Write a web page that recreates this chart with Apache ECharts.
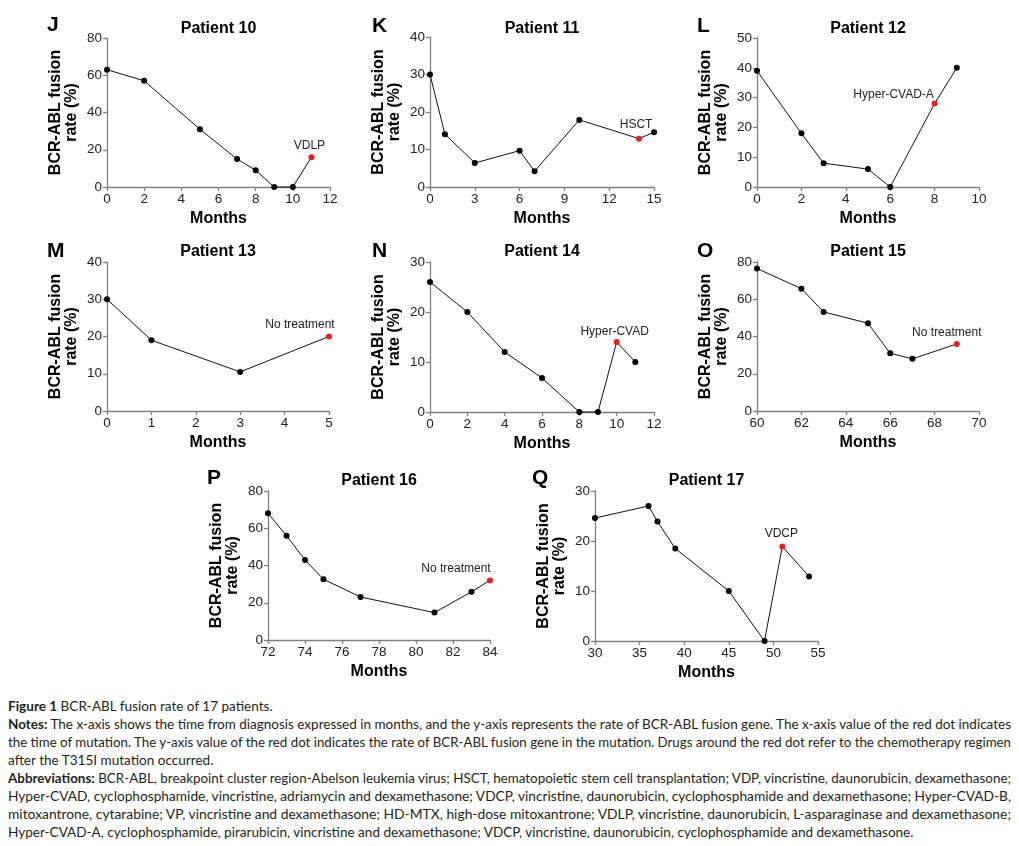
<!DOCTYPE html>
<html><head><meta charset="utf-8">
<script src="https://cdn.jsdelivr.net/npm/echarts@6/dist/echarts.min.js"></script>
<style>
html,body{margin:0;padding:0;background:#fff;}
#chart{position:absolute;left:0;top:0;width:1019px;height:690px;}
#caption{position:absolute;left:8px;top:697px;width:1003px;font-family:'Lato','Open Sans',sans-serif;font-size:13.5px;line-height:18px;color:#231f20;}
#caption div{white-space:nowrap;height:18px;}
#caption span{display:inline-block;transform-origin:0 0;}
#caption b{font-weight:bold;}
</style></head><body>
<div id="chart"></div>
<div id="caption">
<div><span><b>Figure 1</b> BCR-ABL fusion rate of 17 patients.</span></div>
<div class="j"><span><b>Notes:</b> The x-axis shows the time from diagnosis expressed in months, and the y-axis represents the rate of BCR-ABL fusion gene. The x-axis value of the red dot indicates</span></div>
<div class="j"><span>the time of mutation. The y-axis value of the red dot indicates the rate of BCR-ABL fusion gene in the mutation. Drugs around the red dot refer to the chemotherapy regimen</span></div>
<div><span>after the T315I mutation occurred.</span></div>
<div class="j"><span><b>Abbreviations:</b> BCR-ABL, breakpoint cluster region-Abelson leukemia virus; HSCT, hematopoietic stem cell transplantation; VDP, vincristine, daunorubicin, dexamethasone;</span></div>
<div class="j"><span>Hyper-CVAD, cyclophosphamide, vincristine, adriamycin and dexamethasone; VDCP, vincristine, daunorubicin, cyclophosphamide and dexamethasone; Hyper-CVAD-B,</span></div>
<div class="j"><span>mitoxantrone, cytarabine; VP, vincristine and dexamethasone; HD-MTX, high-dose mitoxantrone; VDLP, vincristine, daunorubicin, L-asparaginase and dexamethasone;</span></div>
<div><span>Hyper-CVAD-A, cyclophosphamide, pirarubicin, vincristine and dexamethasone; VDCP, vincristine, daunorubicin, cyclophosphamide and dexamethasone.</span></div>
</div>
<script>
// ---- Data ----
const p10Months = [0, 2, 5, 7, 8, 9, 10, 11];
const p10Rate   = [63, 57, 31, 15, 9, 0, 0, 16];
const p10Mutation = 11; const p10Regimen = 'VDLP';
const p10XTicks = [0, 2, 4, 6, 8, 10, 12]; const p10YTicks = [0, 20, 40, 60, 80];

const p11Months = [0, 1, 3, 6, 7, 10, 14, 15];
const p11Rate   = [30, 14.1, 6.4, 9.7, 4.2, 17.9, 12.9, 14.6];
const p11Mutation = 14; const p11Regimen = 'HSCT';
const p11XTicks = [0, 3, 6, 9, 12, 15]; const p11YTicks = [0, 10, 20, 30, 40];

const p12Months = [0, 2, 3, 5, 6, 8, 9];
const p12Rate   = [39, 18, 8, 6, 0, 28, 40];
const p12Mutation = 8; const p12Regimen = 'Hyper-CVAD-A';
const p12XTicks = [0, 2, 4, 6, 8, 10]; const p12YTicks = [0, 10, 20, 30, 40, 50];

const p13Months = [0, 1, 3, 5];
const p13Rate   = [30, 19, 10.5, 20];
const p13Mutation = 5; const p13Regimen = 'No treatment';
const p13XTicks = [0, 1, 2, 3, 4, 5]; const p13YTicks = [0, 10, 20, 30, 40];

const p14Months = [0, 2, 4, 6, 8, 9, 10, 11];
const p14Rate   = [26, 20, 12, 6.8, 0, 0, 14, 10];
const p14Mutation = 10; const p14Regimen = 'Hyper-CVAD';
const p14XTicks = [0, 2, 4, 6, 8, 10, 12]; const p14YTicks = [0, 10, 20, 30];

const p15Months = [60, 62, 63, 65, 66, 67, 69];
const p15Rate   = [76.5, 65.7, 53.2, 47.1, 31, 28, 36];
const p15Mutation = 69; const p15Regimen = 'No treatment';
const p15XTicks = [60, 62, 64, 66, 68, 70]; const p15YTicks = [0, 20, 40, 60, 80];

const p16Months = [72, 73, 74, 75, 77, 81, 83, 84];
const p16Rate   = [68, 56, 43, 32.6, 23.1, 14.7, 25.9, 32];
const p16Mutation = 84; const p16Regimen = 'No treatment';
const p16XTicks = [72, 74, 76, 78, 80, 82, 84]; const p16YTicks = [0, 20, 40, 60, 80];

const p17Months = [30, 36, 37, 39, 45, 49, 51, 54];
const p17Rate   = [24.6, 27, 23.9, 18.5, 10, 0, 18.9, 12.9];
const p17Mutation = 51; const p17Regimen = 'VDCP';
const p17XTicks = [30, 35, 40, 45, 50, 55]; const p17YTicks = [0, 10, 20, 30];

const panelLetters = ['J', 'K', 'L', 'M', 'N', 'O', 'P', 'Q'];
const panelTitles = ['Patient 10', 'Patient 11', 'Patient 12', 'Patient 13', 'Patient 14', 'Patient 15', 'Patient 16', 'Patient 17'];

// ---- Layout ----
const panels = [
  {m: p10Months, r: p10Rate, mut: p10Mutation, reg: p10Regimen, xt: p10XTicks, yt: p10YTicks, g: [107, 38, 223, 149], off: [-2, 2]},
  {m: p11Months, r: p11Rate, mut: p11Mutation, reg: p11Regimen, xt: p11XTicks, yt: p11YTicks, g: [430, 37, 224, 150], off: [-3, 0]},
  {m: p12Months, r: p12Rate, mut: p12Mutation, reg: p12Regimen, xt: p12XTicks, yt: p12YTicks, g: [757, 38, 222, 149], off: [-41, 5]},
  {m: p13Months, r: p13Rate, mut: p13Mutation, reg: p13Regimen, xt: p13XTicks, yt: p13YTicks, g: [107, 262, 222, 149], off: [-29, 2]},
  {m: p14Months, r: p14Rate, mut: p14Mutation, reg: p14Regimen, xt: p14XTicks, yt: p14YTicks, g: [430, 262, 224, 150], off: [-2, 4]},
  {m: p15Months, r: p15Rate, mut: p15Mutation, reg: p15Regimen, xt: p15XTicks, yt: p15YTicks, g: [757, 262, 222, 149], off: [-10, 3]},
  {m: p16Months, r: p16Rate, mut: p16Mutation, reg: p16Regimen, xt: p16XTicks, yt: p16YTicks, g: [268, 491, 222, 149], off: [-34, 2]},
  {m: p17Months, r: p17Rate, mut: p17Mutation, reg: p17Regimen, xt: p17XTicks, yt: p17YTicks, g: [595, 491, 223, 150], off: [-1, 1]}
];
const titleY = [28.5, 28.5, 28.5, 252, 252, 252, 481, 481];
const letterPos = [[47, 25], [372, 26], [697, 26], [47, 251], [372, 251], [697, 251], [207, 478], [532, 478]];

const FONT = "'Liberation Sans', Arimo, Arial, Helvetica, sans-serif";
const AXIS_COLOR = '#7f7f7f';
const RED = '#ec1c24';

const grids = [], xAxes = [], yAxes = [], series = [], graphics = [];
panels.forEach((p, i) => {
  grids.push({left: p.g[0], top: p.g[1], width: p.g[2], height: p.g[3], containLabel: false});
  const axisCommon = {
    gridIndex: i, type: 'value',
    axisLine: {show: true, lineStyle: {color: AXIS_COLOR, width: 1.3}},
    axisTick: {show: true, length: 4, lineStyle: {color: AXIS_COLOR, width: 1.3}},
    splitLine: {show: false},
    axisLabel: {color: '#222', fontFamily: FONT, fontSize: 13.5, margin: 5},
    nameTextStyle: {color: '#000', fontFamily: FONT, fontSize: 16, fontWeight: 'bold'}
  };
  xAxes.push(Object.assign({}, axisCommon, {
    min: p.xt[0], max: p.xt[p.xt.length - 1], interval: p.xt[1] - p.xt[0],
    name: 'Months', nameLocation: 'middle', nameGap: 24
  }));
  yAxes.push(Object.assign({}, axisCommon, {
    min: p.yt[0], max: p.yt[p.yt.length - 1], interval: p.yt[1] - p.yt[0],
    name: 'BCR-ABL fusion\nrate (%)', nameLocation: 'middle', nameGap: 27,
    nameTextStyle: Object.assign({}, axisCommon.nameTextStyle, {lineHeight: 16})
  }));
  const data = p.m.map((mo, k) => {
    const isRed = mo === p.mut;
    const d = {value: [mo, p.r[k]]};
    if (isRed) {
      d.itemStyle = {color: RED};
      d.label = {show: true, position: 'top', distance: 5, offset: p.off, formatter: p.reg,
        color: '#222', fontFamily: FONT, fontSize: 12};
    }
    return d;
  });
  series.push({
    type: 'line', xAxisIndex: i, yAxisIndex: i, data: data,
    symbol: 'circle', symbolSize: 6, showSymbol: true, clip: false,
    lineStyle: {color: '#111', width: 1},
    itemStyle: {color: '#000'},
    emphasis: {disabled: true},
    animation: false
  });
  graphics.push({type: 'text', x: p.g[0] + p.g[2] / 2, y: titleY[i],
    style: {text: panelTitles[i], fill: '#000', font: "bold 16px 'Liberation Sans', Arimo, Arial, sans-serif", textAlign: 'center', textVerticalAlign: 'middle'}});
  graphics.push({type: 'text', x: letterPos[i][0], y: letterPos[i][1],
    style: {text: panelLetters[i], fill: '#000', font: "bold 21px 'Liberation Sans', Arimo, Arial, sans-serif", textAlign: 'left', textVerticalAlign: 'middle'}});
});

const chart = echarts.init(document.getElementById('chart'), null, {renderer: 'canvas'});
chart.setOption({
  backgroundColor: '#fff',
  animation: false,
  grid: grids, xAxis: xAxes, yAxis: yAxes, series: series,
  graphic: graphics
});

// fit caption lines to the column width (justified look)
(function fitCaption() {
  const W = 1003;
  const rows = Array.from(document.querySelectorAll('#caption div'));
  const scales = [];
  rows.forEach(r => {
    if (r.classList.contains('j')) {
      const s = r.firstElementChild;
      const w = s.getBoundingClientRect().width;
      const k = W / w;
      scales.push(k);
      s.style.transform = 'scaleX(' + k + ')';
    }
  });
  const avg = scales.reduce((a, b) => a + b, 0) / scales.length;
  rows.forEach(r => {
    if (!r.classList.contains('j')) r.firstElementChild.style.transform = 'scaleX(' + avg + ')';
  });
})();
</script>
</body></html>
